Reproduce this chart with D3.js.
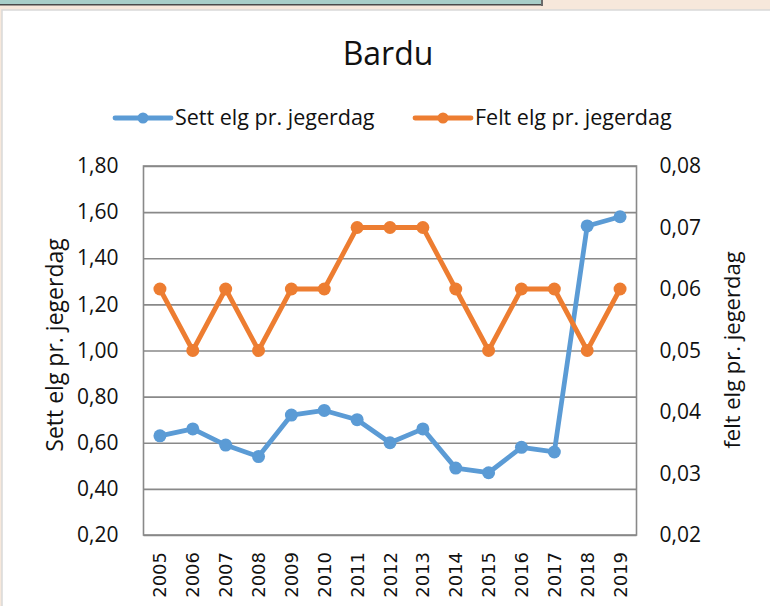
<!DOCTYPE html>
<html><head><meta charset="utf-8">
<script src="https://d3js.org/d3.v7.min.js"></script>
<style>html,body{margin:0;padding:0;background:#F7E8DB;}svg{display:block;}</style>
</head><body>
<script>
const years = ["2005","2006","2007","2008","2009","2010","2011","2012","2013","2014","2015","2016","2017","2018","2019"];
const settElg = [0.63,0.66,0.59,0.54,0.72,0.74,0.70,0.60,0.66,0.49,0.47,0.58,0.56,1.54,1.58];
const feltElg = [0.06,0.05,0.06,0.05,0.06,0.06,0.07,0.07,0.07,0.06,0.05,0.06,0.06,0.05,0.06];
const leftTicks = [0.2,0.4,0.6,0.8,1.0,1.2,1.4,1.6,1.8];
const rightTicks = [0.02,0.03,0.04,0.05,0.06,0.07,0.08];
const seriesNames = ["Sett elg pr. jegerdag","Felt elg pr. jegerdag"];
const colors = ["#5B9BD5","#ED7D31"];

const W = 770, H = 606;
const svg = d3.select("body").append("svg").attr("width", W).attr("height", H);

// background frame
svg.append("rect").attr("x",0).attr("y",0).attr("width",W).attr("height",H).attr("fill","#F7E8DB");
svg.append("rect").attr("x",0).attr("y",0).attr("width",543).attr("height",5).attr("fill","#A8CEC8");
svg.append("rect").attr("x",0).attr("y",4).attr("width",543).attr("height",1.5).attr("fill","#4a4a4a");
svg.append("rect").attr("x",541).attr("y",0).attr("width",2).attr("height",6).attr("fill","#6a6a6a");
svg.append("rect").attr("x",2).attr("y",10).attr("width",W).attr("height",H).attr("fill","#fff")
  .attr("stroke","#d9d9d9").attr("stroke-width",1.5);

const plot = {left:143.5, right:636.5, top:166, bottom:535};
const x = d3.scaleBand().domain(years).range([plot.left, plot.right]);
const yL = d3.scaleLinear().domain([0.2,1.8]).range([plot.bottom, plot.top]);
const yR = d3.scaleLinear().domain([0.02,0.08]).range([plot.bottom, plot.top]);
const cx = d => x(d) + x.bandwidth()/2;
const fmt = (v,dp) => v.toFixed(dp).replace(".", ",");

// gridlines (left axis)
const gridAxis = d3.axisLeft(yL).tickValues(leftTicks).tickSize(-(plot.right-plot.left)).tickFormat("");
const g = svg.append("g").attr("transform",`translate(${plot.left},0)`).call(gridAxis);
g.select(".domain").remove();
g.selectAll("line").attr("stroke","#898989").attr("stroke-width",1.6);

// plot border
svg.append("rect").attr("x",plot.left).attr("y",plot.top).attr("width",plot.right-plot.left)
  .attr("height",plot.bottom-plot.top).attr("fill","none").attr("stroke","#898989").attr("stroke-width",1.6);

// left tick labels
const la = svg.append("g").attr("transform",`translate(${plot.left},0)`)
  .call(d3.axisLeft(yL).tickValues(leftTicks).tickSize(0).tickPadding(25).tickFormat(d=>fmt(d,2)));
la.select(".domain").remove();
la.selectAll("text").attr("font-family","'Open Sans'").attr("font-size",21).attr("fill","#111");

// right tick labels
const ra = svg.append("g").attr("transform",`translate(${plot.right},0)`)
  .call(d3.axisRight(yR).tickValues(rightTicks).tickSize(0).tickPadding(23).tickFormat(d=>fmt(d,2)));
ra.select(".domain").remove();
ra.selectAll("text").attr("font-family","'Open Sans'").attr("font-size",21).attr("fill","#111");

// x labels
const xa = svg.append("g").attr("transform",`translate(0,${plot.bottom})`)
  .call(d3.axisBottom(x).tickSize(0).tickPadding(0));
xa.select(".domain").remove();
xa.selectAll("text").attr("font-family","'DejaVu Sans'").attr("font-size",18).attr("fill","#111")
  .attr("text-anchor","end").attr("dy",null).attr("y",0)
  .attr("transform","translate(6.5,17) rotate(-90)");

// lines
const series = [
  {vals: settElg, y: yL},
  {vals: feltElg, y: yR}
];
series.forEach((s,i)=>{
  const line = d3.line().x((d,j)=>cx(years[j])).y(d=>s.y(d));
  svg.append("path").datum(s.vals).attr("d",line).attr("fill","none")
    .attr("stroke",colors[i]).attr("stroke-width",4.8).attr("stroke-linejoin","round");
  svg.append("g").selectAll("circle").data(s.vals).join("circle")
    .attr("cx",(d,j)=>cx(years[j])).attr("cy",d=>s.y(d)).attr("r",6.5).attr("fill",colors[i]);
});

// title
svg.append("text").attr("x",388).attr("y",65).attr("text-anchor","middle")
  .attr("font-family","'Open Sans'").attr("font-size",32).attr("fill","#111").text("Bardu");

// legend
const legX = [115, 415];
seriesNames.forEach((n,i)=>{
  const lg = svg.append("g");
  lg.append("line").attr("x1",legX[i]).attr("x2",legX[i]+56).attr("y1",118).attr("y2",118)
    .attr("stroke",colors[i]).attr("stroke-width",4.8).attr("stroke-linecap","round");
  lg.append("circle").attr("cx",legX[i]+28).attr("cy",118).attr("r",5.5).attr("fill",colors[i]);
  lg.append("text").attr("x",legX[i]+60).attr("y",125).attr("font-family","'Open Sans'")
    .attr("font-size",21.5).attr("fill","#111").text(n);
});

// axis titles
svg.append("text").attr("transform","translate(63,345) rotate(-90)").attr("text-anchor","middle")
  .attr("font-family","'Open Sans'").attr("font-size",23).attr("fill","#111").text("Sett elg pr. jegerdag");
svg.append("text").attr("transform","translate(740,350) rotate(-90)").attr("text-anchor","middle")
  .attr("font-family","'Open Sans'").attr("font-size",22).attr("fill","#111").text("felt elg pr. jegerdag");
</script>
</body></html>
